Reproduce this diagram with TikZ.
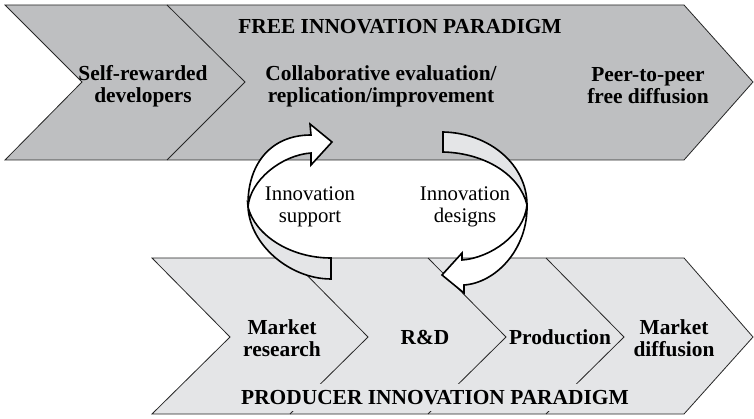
\documentclass[tikz,border=0pt]{standalone}
\usepackage{fontspec}
\setmainfont{Liberation Serif}
\definecolor{bandA}{HTML}{BEBFC1}
\definecolor{bandB}{HTML}{E4E5E7}
\begin{document}
\begin{tikzpicture}[x=1pt,y=-1pt,
  band/.style={line width=0.8pt, draw=black!85, line join=miter},
  lbl/.style={font=\fontsize{21.4}{22}\selectfont\bfseries, align=center, inner sep=0pt},
  albl/.style={font=\fontsize{20.8}{21.5}\selectfont, align=center, inner sep=0pt},
  ribbon/.style={line width=1.6pt, draw=black, line join=miter, miter limit=10}]
\useasboundingbox (0,0) rectangle (754,419);

% ---- top band (free innovation paradigm)
\coordinate (t1) at (5,5);
\coordinate (t2) at (684,5);
\coordinate (t3) at (753,82);
\coordinate (t4) at (684,160);
\coordinate (t5) at (5,160);
\coordinate (t6) at (82,82);
\filldraw[band, fill=bandA] (t1) -- (t2) -- (t3) -- (t4) -- (t5) -- (t6) -- cycle;
\coordinate (d1a) at (167,5);
\coordinate (d1b) at (245,82);
\coordinate (d1c) at (167,160);
\draw[band] (d1a) -- (d1b) -- (d1c);

% ---- bottom band (producer innovation paradigm)
\coordinate (b1) at (152,258);
\coordinate (b2) at (684,258);
\coordinate (b3) at (753,337);
\coordinate (b4) at (684,414);
\coordinate (b5) at (152,414);
\coordinate (b6) at (230,337);
\filldraw[band, fill=bandB] (b1) -- (b2) -- (b3) -- (b4) -- (b5) -- (b6) -- cycle;
\coordinate (e1a) at (290,258);
\coordinate (e1b) at (368,337);
\coordinate (e1c) at (290,414);
\coordinate (e2a) at (428,258);
\coordinate (e2b) at (506,337);
\coordinate (e2c) at (428,414);
\coordinate (e3a) at (546,258);
\coordinate (e3b) at (624,337);
\coordinate (e3c) at (546,414);
\draw[band] (e1a) -- (e1b) -- (e1c);
\draw[band] (e2a) -- (e2b) -- (e2c);
\draw[band] (e3a) -- (e3b) -- (e3c);

% ---- band labels
\node[lbl] (free) at (400,27) {FREE INNOVATION PARADIGM};
\node[lbl] (selfdev) at (143,86) {Self-rewarded\\developers};
\node[lbl] (collab) at (381,86) {Collaborative evaluation/\\replication/improvement};
\node[lbl] (peer) at (648,86) {Peer-to-peer\\free diffusion};
\node[lbl] (mres) at (282,338) {Market\\research};
\node[lbl] (rd) at (425,337) {R\&D};
\node[lbl] (prod) at (560,337) {Production};
\node[lbl] (mdiff) at (674,338) {Market\\diffusion};
\node[lbl, fill=bandB, inner xsep=3pt, inner ysep=5.9pt] (producer) at (435,397.5) {PRODUCER INNOVATION PARADIGM};

% ---- left ribbon arrow (innovation support)
\coordinate (lp) at (248,207);
\filldraw[ribbon, fill=bandB] (lp) .. controls (250,245) and (290,279) .. (331,279)
  -- (331,258) .. controls (290,258) and (255,235) .. (lp) -- cycle;
\filldraw[ribbon, fill=white] (311,135) -- (310,124) -- (332,142) -- (311,165) -- (311,153)
  .. controls (282,155) and (250,180) .. (lp)
  .. controls (247,165) and (270,135) .. cycle;

% ---- right ribbon arrow (innovation designs)
\coordinate (rq) at (527,205);
\filldraw[ribbon, fill=bandB] (443,132) .. controls (490,133) and (527,165) .. (rq)
  .. controls (520,175) and (485,153) .. (443,152) -- cycle;
\filldraw[ribbon, fill=white] (rq) .. controls (528,250) and (495,283) .. (464,285)
  -- (464,293) -- (442,275) -- (462,253) -- (462,260)
  .. controls (490,258) and (524,235) .. cycle;

% ---- arrow labels
\node[albl] (isup) at (310,207) {Innovation\\support};
\node[albl] (ides) at (465,207) {Innovation\\designs};
\end{tikzpicture}
\end{document}
